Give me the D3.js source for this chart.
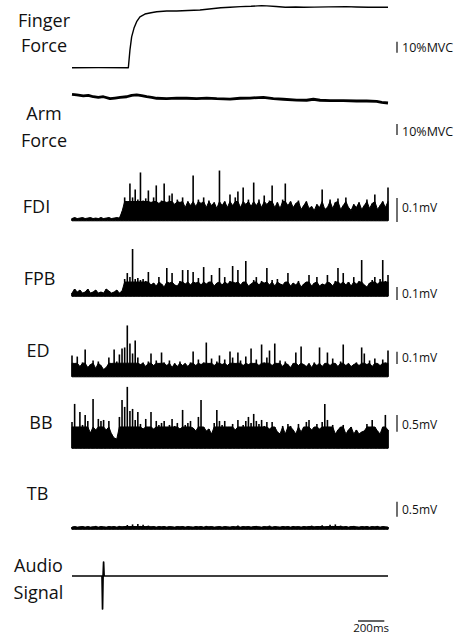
<!DOCTYPE html>
<html>
<head>
<meta charset="utf-8">
<script src="https://cdn.jsdelivr.net/npm/d3@7/dist/d3.min.js"></script>
<style>
  body { margin: 0; background: #fff; }
  svg { display: block; font-family: "Open Sans", sans-serif; }
</style>
</head>
<body>
<svg id="drawing_region"></svg>
<script>
// time in ms, force in %MVC
const fingerForce = [[0,0],[200,0.1],[428,0],[440,16],[453,28],[471,36],[491,41.8],[516,46.3],[554,48.8],
  [600,50],[643,50.9],[719,51.5],[795,51.5],[880,52],[972,52.5],[1060,53.6],[1130,54.5],[1200,54.9],
  [1280,55.5],[1360,55.8],[1440,56.4],[1480,56.2],[1550,55.6],[1620,54.9],[1700,55.2],[1760,55],
  [1840,55.1],[1950,55.3],[2080,55.5],[2160,55.2],[2250,55],[2400,54.9]];

const armForce = [[0,7.9],[36,7.3],[86,6.4],[124,7.0],[162,5.7],[200,5.2],[238,5.7],[289,3.9],[327,4.5],
  [365,5.2],[415,5.7],[453,7.0],[491,7.3],[529,6.6],[567,5.7],[605,5.2],[643,4.3],[719,3.9],[795,4.5],
  [871,4.3],[947,3.9],[1023,4.5],[1099,3.9],[1200,3.6],[1276,4.3],[1352,4.5],[1453,5.2],[1529,3.9],
  [1605,3.4],[1706,2.7],[1782,2.5],[1833,3.4],[1884,2.5],[1960,2.1],[2061,2.1],[2162,1.8],[2238,1.8],
  [2314,1.5],[2352,0.6],[2400,0]];

// EMG amplitude (mV), one value every 20 ms
const emgStepMs = 20;
const fdi = [0.004,0.008,0.004,0.006,0.008,0.004,0.006,0.008,0.004,0.006,0.004,0.008,0.004,0.006,0.008,0.004,0.006,0.008,0.006,
  0.033,0.092,0.075,0.150,0.092,0.125,0.083,0.196,0.079,0.088,0.121,0.071,0.092,0.142,0.067,0.079,0.150,0.071,0.100,0.108,
  0.063,0.083,0.071,0.092,0.050,0.075,0.058,0.183,0.054,0.083,0.067,0.092,0.050,0.079,0.058,0.071,0.046,0.204,0.058,0.075,
  0.050,0.104,0.058,0.092,0.117,0.050,0.133,0.063,0.083,0.054,0.154,0.058,0.083,0.050,0.100,0.063,0.079,0.142,0.050,0.071,
  0.046,0.083,0.150,0.058,0.075,0.050,0.067,0.079,0.042,0.058,0.075,0.046,0.054,0.038,0.063,0.050,0.125,0.042,0.050,0.083,
  0.046,0.071,0.088,0.042,0.058,0.092,0.050,0.038,0.063,0.050,0.071,0.042,0.058,0.083,0.046,0.067,0.104,0.042,0.058,0.075,
  0.050,0.133];
const fpb = [0.015,0.046,0.023,0.038,0.015,0.023,0.046,0.015,0.023,0.038,0.015,0.023,0.015,0.046,0.031,0.015,0.023,0.038,0.015,
  0.031,0.123,0.169,0.138,0.354,0.123,0.131,0.115,0.123,0.108,0.177,0.077,0.092,0.069,0.138,0.085,0.062,0.208,0.092,0.169,
  0.077,0.069,0.108,0.192,0.085,0.192,0.077,0.177,0.092,0.131,0.077,0.215,0.085,0.100,0.154,0.069,0.092,0.208,0.077,0.138,
  0.085,0.108,0.223,0.092,0.192,0.077,0.100,0.262,0.069,0.085,0.115,0.138,0.077,0.108,0.092,0.208,0.077,0.115,0.069,0.123,
  0.085,0.077,0.100,0.169,0.069,0.092,0.077,0.108,0.062,0.085,0.100,0.154,0.069,0.092,0.138,0.069,0.085,0.077,0.154,0.092,
  0.069,0.108,0.208,0.085,0.169,0.077,0.100,0.069,0.138,0.085,0.108,0.269,0.077,0.062,0.092,0.115,0.138,0.085,0.123,0.269,
  0.108,0.154];
const ed = [0.163,0.098,0.154,0.073,0.106,0.211,0.065,0.089,0.122,0.057,0.114,0.081,0.049,0.065,0.146,0.098,0.211,0.114,0.171,
  0.220,0.228,0.407,0.260,0.179,0.285,0.146,0.089,0.106,0.073,0.114,0.179,0.081,0.122,0.098,0.187,0.106,0.081,0.122,0.065,
  0.098,0.073,0.114,0.081,0.098,0.073,0.106,0.195,0.081,0.130,0.089,0.106,0.268,0.098,0.138,0.081,0.114,0.163,0.089,0.130,
  0.081,0.195,0.146,0.098,0.187,0.122,0.081,0.154,0.089,0.220,0.098,0.130,0.081,0.252,0.106,0.146,0.203,0.081,0.260,0.098,
  0.122,0.073,0.114,0.089,0.065,0.098,0.187,0.081,0.236,0.089,0.073,0.098,0.065,0.106,0.081,0.228,0.073,0.098,0.187,0.081,
  0.138,0.098,0.073,0.114,0.252,0.081,0.098,0.073,0.089,0.106,0.081,0.228,0.179,0.089,0.122,0.073,0.138,0.098,0.081,0.130,
  0.106,0.203];
const bb = [0.75,1.29,0.60,1.05,0.66,0.96,0.78,0.42,1.44,0.51,0.84,0.78,0.81,0.51,0.78,0.39,0.27,0.24,0.90,
  1.41,1.20,1.80,1.08,1.14,0.81,1.05,0.69,0.54,0.84,0.60,1.05,0.54,0.78,0.66,0.72,0.78,0.60,0.66,0.84,
  0.63,0.72,0.54,1.11,0.66,0.72,0.78,0.57,0.48,0.90,1.41,0.60,0.48,0.54,0.39,0.72,1.11,0.78,0.66,0.78,
  0.60,0.60,0.69,0.51,0.81,0.60,0.66,0.78,0.90,0.72,0.99,0.78,0.69,0.81,0.63,0.75,0.54,0.75,0.60,0.45,
  0.39,0.63,0.39,0.69,0.63,0.51,0.39,0.69,0.45,0.60,0.75,0.81,0.51,0.60,0.69,0.54,0.75,1.29,0.81,0.60,
  0.66,0.39,0.51,0.60,0.66,0.39,0.51,0.60,0.39,0.51,0.39,0.45,0.48,0.69,0.60,0.81,0.60,0.48,0.39,0.60,
  0.96,0.51];
const tb = [0.03,0.05,0.03,0.04,0.06,0.03,0.05,0.03,0.04,0.07,0.03,0.05,0.04,0.03,0.06,0.04,0.05,0.03,0.07,0.04,
  0.06,0.10,0.05,0.12,0.06,0.13,0.07,0.11,0.05,0.08,0.04,0.06,0.03,0.05,0.04,0.06,0.03,0.05,0.04,0.03,
  0.05,0.04,0.06,0.03,0.05,0.04,0.03,0.06,0.04,0.05,0.03,0.07,0.04,0.05,0.03,0.04,0.06,0.03,0.05,0.04,
  0.03,0.05,0.04,0.08,0.03,0.05,0.04,0.06,0.03,0.05,0.07,0.04,0.03,0.05,0.04,0.08,0.03,0.05,0.04,0.03,
  0.06,0.04,0.05,0.03,0.07,0.04,0.05,0.03,0.06,0.04,0.05,0.08,0.04,0.06,0.05,0.09,0.04,0.06,0.11,0.07,
  0.12,0.05,0.08,0.04,0.06,0.03,0.05,0.07,0.04,0.03,0.05,0.04,0.06,0.03,0.05,0.04,0.07,0.03,0.05,0.04,0.03];

// dense background activity level of each EMG trace (mV)
const bodyLevel = { fdi: 0.075, fpb: 0.10, ed: 0.10, bb: 0.60, tb: 0.05 };

// audio (arbitrary units)
const audioSignal = [[0,0],[228,0],[232,-1.0],[236,0],[240,0.42],[244,0],[2400,0]];

const timeBarMs = 200;
const timeBarStart = 2172;

// layout of each trace: baseline y, scale bar length in px, label placement
const channels = [
  { name: 'finger', kind: 'line', data: fingerForce, label: ['Finger', 'Force'], lx: 44, ly: [27, 52],
    y0: 67.7, barValue: 10, barPx: 11, barBottom: 52.7, barText: '10%MVC', textY: 51.7, fs: 12.5, width: 1.4 },
  { name: 'arm', kind: 'line', data: armForce, label: ['Arm', 'Force'], lx: 44, ly: [120, 146.5],
    y0: 103, barValue: 10, barPx: 11, barBottom: 135, barText: '10%MVC', textY: 136, fs: 12.5, width: 2.8 },
  { name: 'fdi', kind: 'emg', data: fdi, label: ['FDI'], lx: 36.5, ly: [213],
    y0: 219.5, barValue: 0.1, barPx: 24, barBottom: 222, barText: '0.1mV', textY: 212, fs: 12 },
  { name: 'fpb', kind: 'emg', data: fpb, label: ['FPB'], lx: 39.5, ly: [285],
    y0: 295, barValue: 0.1, barPx: 13, barBottom: 300, barText: '0.1mV', textY: 297.5, fs: 12 },
  { name: 'ed', kind: 'emg', data: ed, label: ['ED'], lx: 38, ly: [357],
    y0: 375.5, barValue: 0.1, barPx: 12.3, barBottom: 364, barText: '0.1mV', textY: 361.5, fs: 12 },
  { name: 'bb', kind: 'emg', data: bb, label: ['BB'], lx: 41, ly: [428.5],
    y0: 447, barValue: 0.5, barPx: 16.7, barBottom: 431.7, barText: '0.5mV', textY: 429.3, fs: 12 },
  { name: 'tb', kind: 'emg', data: tb, label: ['TB'], lx: 37.5, ly: [500],
    y0: 528, barValue: 0.5, barPx: 15, barBottom: 516.7, barText: '0.5mV', textY: 513.5, fs: 12 },
  { name: 'audio', kind: 'line', data: audioSignal, label: ['Audio', 'Signal'], lx: 38.5, ly: [572, 598.5],
    y0: 576, barValue: 1, barPx: 33, width: 1.7 },
];

const config = { width: 460, height: 634, left: 72, right: 388 };

const svg = d3.select('#drawing_region')
  .attr('width', config.width)
  .attr('height', config.height);

const x = d3.scaleLinear().domain([0, 2400]).range([config.left, config.right]);

channels.forEach(ch => {
  const y = d3.scaleLinear().domain([0, ch.barValue]).range([ch.y0, ch.y0 - ch.barPx]);
  const g = svg.append('g').attr('class', ch.name);

  if (ch.kind === 'line') {
    const line = d3.line().x(d => x(d[0])).y(d => y(d[1]));
    g.append('path')
      .datum(ch.data)
      .attr('d', line)
      .attr('fill', 'none')
      .attr('stroke', 'black')
      .attr('stroke-width', ch.width)
      .attr('stroke-linejoin', 'round');
  } else {
    const body = bodyLevel[ch.name];
    // solid body of the trace
    const area = d3.area()
      .x((d, i) => x(i * emgStepMs))
      .y0(y(0) + 1.3)
      .y1(d => y(Math.min(d, body)));
    g.append('path')
      .datum(ch.data)
      .attr('d', area)
      .attr('fill', 'black')
      .attr('stroke', 'black')
      .attr('stroke-width', 1);
    // spikes, one per sample
    g.selectAll('line.s')
      .data(ch.data)
      .enter()
      .append('line')
      .attr('class', 's')
      .attr('x1', (d, i) => x(i * emgStepMs))
      .attr('x2', (d, i) => x(i * emgStepMs))
      .attr('y1', y(0) + 1.3)
      .attr('y2', d => y(d))
      .attr('stroke', 'black')
      .attr('stroke-width', 1.6);
  }

  // channel label
  ch.label.forEach((t, k) => {
    g.append('text')
      .attr('x', ch.lx)
      .attr('y', ch.ly[k])
      .attr('text-anchor', 'middle')
      .attr('font-size', 18)
      .attr('fill', '#111')
      .text(t);
  });

  // amplitude scale bar
  if (ch.barText) {
    const len = y(0) - y(ch.barValue);
    g.append('line')
      .attr('x1', 397).attr('x2', 397)
      .attr('y1', ch.barBottom).attr('y2', ch.barBottom - len)
      .attr('stroke', '#222').attr('stroke-width', 1.3);
    g.append('text')
      .attr('x', 402)
      .attr('y', ch.textY)
      .attr('font-size', ch.fs)
      .attr('fill', '#111')
      .text(ch.barText);
  }
});

// time scale bar
svg.append('line')
  .attr('x1', x(timeBarStart)).attr('x2', x(timeBarStart + timeBarMs))
  .attr('y1', 621).attr('y2', 621)
  .attr('stroke', '#111').attr('stroke-width', 1.3);
svg.append('text')
  .attr('x', x(timeBarStart + timeBarMs / 2))
  .attr('y', 632)
  .attr('text-anchor', 'middle')
  .attr('font-size', 11.5)
  .attr('fill', '#111')
  .text(timeBarMs + 'ms');
</script>
</body>
</html>
